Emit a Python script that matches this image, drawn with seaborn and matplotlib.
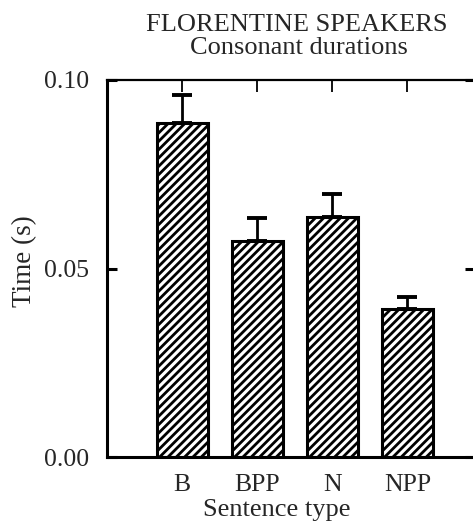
import matplotlib
matplotlib.use("Agg")
import matplotlib.pyplot as plt
import seaborn as sns
import pandas as pd

categories = ["B", "BPP", "N", "NPP"]
means = [0.0886, 0.0573, 0.0637, 0.0393]
err_upper = [0.0075, 0.0061, 0.0061, 0.0031]
yticks = [0.00, 0.05, 0.10]
ytick_labels = ["0.00", "0.05", "0.10"]

sns.set_style("white")
plt.rcParams["font.family"] = ["Liberation Serif", "DejaVu Serif"]
plt.rcParams["hatch.linewidth"] = 2.0
plt.rcParams["hatch.color"] = "black"

W, H = 473, 522
fig = plt.figure(figsize=(W / 100, H / 100), dpi=100)
ax = fig.add_axes([107 / W, 65 / H, 368 / W, 377 / H])

df = pd.DataFrame({"cat": categories, "val": means})
sns.barplot(data=df, x="cat", y="val", ax=ax, color="white", width=0.68,
            edgecolor="black", linewidth=2.2, errorbar=None, saturation=1)
for p in ax.patches:
    p.set_hatch("////")
    p.set_facecolor("white")

ax.errorbar(range(len(categories)), means, yerr=[[0] * len(means), err_upper],
            fmt="none", ecolor="black", elinewidth=2.0, capsize=7, capthick=2.8)

ax.set_xlim(-1, 3.9)
ax.set_ylim(0, 0.10)

for s in ["left", "bottom"]:
    ax.spines[s].set_linewidth(2.2)
    ax.spines[s].set_color("black")
for s in ["top", "right"]:
    ax.spines[s].set_linewidth(1.6)
    ax.spines[s].set_color("black")

ax.set_yticks(yticks)
ax.set_yticklabels(ytick_labels)
ax.tick_params(axis="y", which="both", direction="in", length=7, width=2.2,
               left=True, right=True, labelsize=18.5, pad=13, color="black")
ax.tick_params(axis="x", which="both", direction="in", length=8.5, width=1.3,
               bottom=False, top=True, labelsize=18.5, pad=12, color="black")
ax.set_xticks(range(len(categories)))
ax.set_xticklabels(categories)
ax.set_xlabel("")
ax.set_ylabel("")

fig.text(277 / W, 1 - 516 / H, "Sentence type", ha="center",
         va="baseline", fontsize=19)
fig.text(25 / W, 1 - 261 / H, "Time (s)", rotation=90, ha="center",
         va="center", fontsize=19.5)
fig.text(297 / W, 1 - 31 / H, "FLORENTINE SPEAKERS", ha="center",
         va="baseline", fontsize=19)
fig.text(299 / W, 1 - 54 / H, "Consonant durations", ha="center",
         va="baseline", fontsize=19)

fig.savefig("out.png", dpi=100)
